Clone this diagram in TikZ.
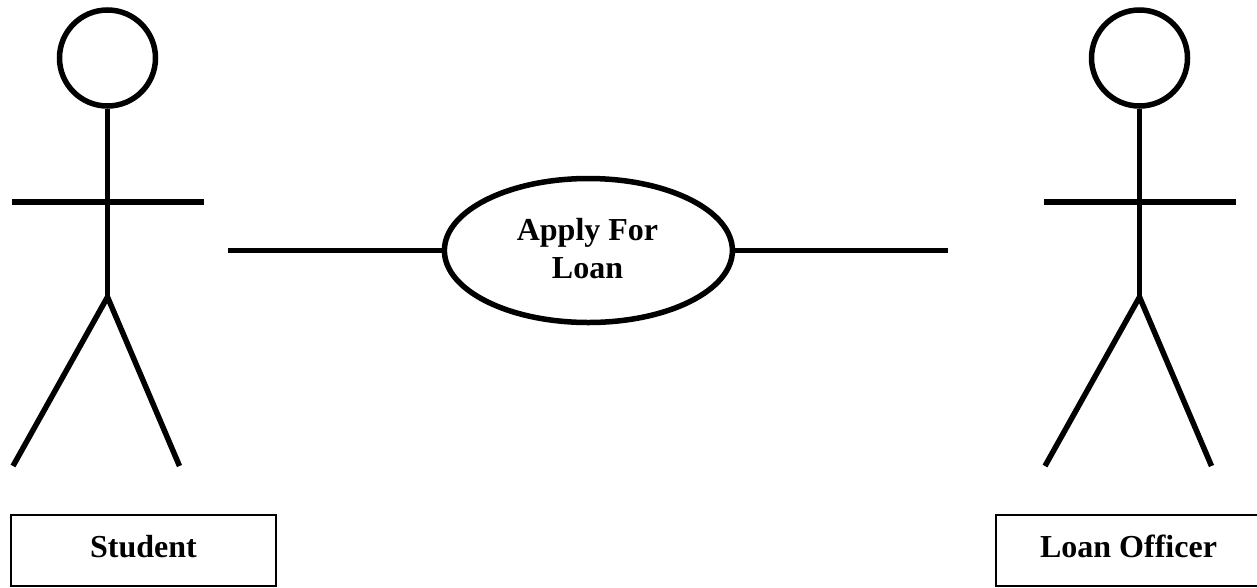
\documentclass[tikz,border=0pt]{standalone}
\usepackage{fontspec}
\setmainfont{Liberation Serif}
\usetikzlibrary{shapes.geometric}
\tikzset{
 limb/.style={line width=5.5pt,black},
 head/.style={circle,draw,line width=5.5pt,minimum size=96pt,inner sep=0pt},
 lab/.style={draw,line width=2pt,minimum width=265pt,minimum height=71pt,inner sep=0pt,font=\fontsize{32}{38}\selectfont\bfseries,fill=white},
 usecase/.style={ellipse,draw,line width=5.5pt,minimum width=288pt,minimum height=144pt,inner sep=0pt},
 uctext/.style={align=center,inner sep=0pt,font=\fontsize{32}{38}\selectfont\bfseries}
}
\begin{document}
\begin{tikzpicture}[x=1pt,y=-1pt]
\useasboundingbox (0,0) rectangle (1257,587);
\fill[white] (0,0) rectangle (1257,587);
\newcommand{\actor}[2]{%
 \node[head] (#2h) at (#1,58) {};
 \coordinate (#2w) at (#1,297);
 \coordinate (#2la) at ({#1-96},202);
 \coordinate (#2ra) at ({#1+96},202);
 \coordinate (#2lf) at ({#1-94.5},466);
 \coordinate (#2rf) at ({#1+72},466);
 \draw[limb] (#2h.south) -- (#2w);
 \draw[limb] (#2la) -- (#2ra);
 \draw[limb] (#2lf) -- (#2w) -- (#2rf);
}
\actor{107.5}{s}
\actor{1139.5}{o}
\node[usecase] (uc) at (588.4,250.5) {};
\node[uctext] (uct) at (587.5,249) {Apply For\\Loan};
\coordinate (cl) at (228,250.5);
\coordinate (cr) at (948,250.5);
\draw[limb] (cl) -- (uc.west);
\draw[limb] (uc.east) -- (cr);
\node[lab] (st) at (143.5,550.5) {\raisebox{9pt}{Student}};
\node[lab] (lo) at (1128.5,550.5) {\raisebox{9pt}{Loan Officer}};
\end{tikzpicture}
\end{document}
